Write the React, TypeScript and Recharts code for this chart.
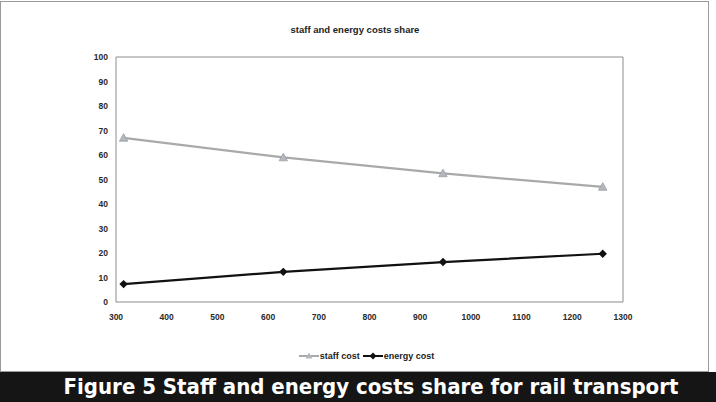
import React from 'react';
import { LineChart, Line, XAxis, YAxis, ReferenceArea, Legend } from 'recharts';

// Passenger volume points on the x axis
const volumes = [315, 630, 945, 1260];
// Share of total cost, in percent
const staffCost = [67, 59, 52.5, 47];
const energyCost = [7.3, 12.3, 16.3, 19.7];

const xTicks = [300, 400, 500, 600, 700, 800, 900, 1000, 1100, 1200, 1300];
const yTicks = [0, 10, 20, 30, 40, 50, 60, 70, 80, 90, 100];

const chartTitle = 'staff and energy costs share';
const caption = 'Figure 5 Staff and energy costs share for rail transport';

const STAFF_COLOR = '#a7a9ab';
const ENERGY_COLOR = '#111111';
const FONT = '"Liberation Sans", Arial, sans-serif';

const rows = volumes.map((v, i) => ({ volume: v, staff: staffCost[i], energy: energyCost[i] }));

const Triangle = (props: any) => {
  const { cx, cy, index } = props;
  if (cx == null || cy == null) return null;
  const s = 4.2;
  return (
    <polygon
      key={`t-${index}`}
      points={`${cx},${cy - s} ${cx - s},${cy + s * 0.8} ${cx + s},${cy + s * 0.8}`}
      fill="#b4b8bd"
      stroke="#9a9ea3"
      strokeWidth={0.8}
    />
  );
};

const Diamond = (props: any) => {
  const { cx, cy, index } = props;
  if (cx == null || cy == null) return null;
  const s = 4.2;
  return (
    <polygon
      key={`d-${index}`}
      points={`${cx},${cy - s} ${cx + s},${cy} ${cx},${cy + s} ${cx - s},${cy}`}
      fill={ENERGY_COLOR}
    />
  );
};

const LegendContent = () => {
  const item = (label: string, color: string, kind: 'tri' | 'dia') => (
    <div style={{ display: 'flex', alignItems: 'center', marginRight: 3 }}>
      <svg width={20} height={8}>
        <line x1={0} y1={4} x2={20} y2={4} stroke={color} strokeWidth={2} />
        {kind === 'tri' ? (
          <polygon points="10,0.5 6.5,6.5 13.5,6.5" fill="#b4b8bd" />
        ) : (
          <polygon points="10,0.5 13.5,4 10,7.5 6.5,4" fill={color} />
        )}
      </svg>
      <span style={{ fontSize: 9, fontWeight: 'bold', color: '#222', marginLeft: 1 }}>{label}</span>
    </div>
  );
  return (
    <div style={{ display: 'flex', fontFamily: FONT, justifyContent: 'center' }}>
      {item('staff cost', STAFF_COLOR, 'tri')}
      {item('energy cost', ENERGY_COLOR, 'dia')}
    </div>
  );
};

export default function App() {
  return (
    <div
      style={{
        position: 'absolute',
        left: 0,
        top: 0,
        width: 716,
        height: 402,
        background: '#ffffff',
        overflow: 'hidden',
        fontFamily: FONT,
      }}
    >
      {/* outer chart frame */}
      <div
        style={{
          position: 'absolute',
          left: 0,
          top: 1,
          width: 709,
          height: 371,
          border: '1px solid #9a9a9a',
          boxSizing: 'border-box',
        }}
      />
      <div
        style={{
          position: 'absolute',
          left: 0,
          top: 24,
          width: 710,
          textAlign: 'center',
          fontSize: 9.5,
          fontWeight: 'bold',
          color: '#222',
        }}
      >
        {chartTitle}
      </div>
      <div style={{ position: 'absolute', left: 0, top: 0 }}>
        <LineChart
          width={716}
          height={402}
          data={rows}
          margin={{ top: 57, right: 93, bottom: 70, left: 76 }}
        >
          <XAxis
            dataKey="volume"
            type="number"
            domain={[300, 1300]}
            ticks={xTicks}
            interval={0}
            axisLine={false}
            tickLine={false}
            tickMargin={6}
            height={30}
            tick={{ fontSize: 8.5, fontWeight: 'bold', fill: '#2a2a2a', fontFamily: FONT }}
          />
          <YAxis
            type="number"
            domain={[0, 100]}
            ticks={yTicks}
            interval={0}
            axisLine={false}
            tickLine={false}
            width={40}
            tick={{ fontSize: 8.5, fontWeight: 'bold', fill: '#2a2a2a', fontFamily: FONT }}
          />
          <ReferenceArea
            x1={300}
            x2={1300}
            y1={0}
            y2={100}
            fill="none"
            fillOpacity={0}
            stroke="#8c8c8c"
            strokeWidth={1}
            ifOverflow="visible"
          />
          <Line
            dataKey="staff"
            name="staff cost"
            stroke={STAFF_COLOR}
            strokeWidth={2.2}
            dot={<Triangle />}
            activeDot={false}
            isAnimationActive={false}
          />
          <Line
            dataKey="energy"
            name="energy cost"
            stroke={ENERGY_COLOR}
            strokeWidth={2.2}
            dot={<Diamond />}
            activeDot={false}
            isAnimationActive={false}
          />
          <Legend
            content={<LegendContent />}
            wrapperStyle={{ left: 292, top: 351, width: 152, height: 0, overflow: 'visible' }}
          />
        </LineChart>
      </div>
      {/* caption bar */}
      <div
        style={{
          position: 'absolute',
          left: 0,
          top: 372,
          width: 716,
          height: 30,
          background: '#151515',
          color: '#ffffff',
          textAlign: 'center',
          fontFamily: '"DejaVu Sans Condensed", "DejaVu Sans", sans-serif',
          fontWeight: 'bold',
          fontSize: 22,
          lineHeight: '30px',
          paddingLeft: 26,
          boxSizing: 'border-box',
          whiteSpace: 'nowrap',
        }}
      >
        {caption}
      </div>
    </div>
  );
}
